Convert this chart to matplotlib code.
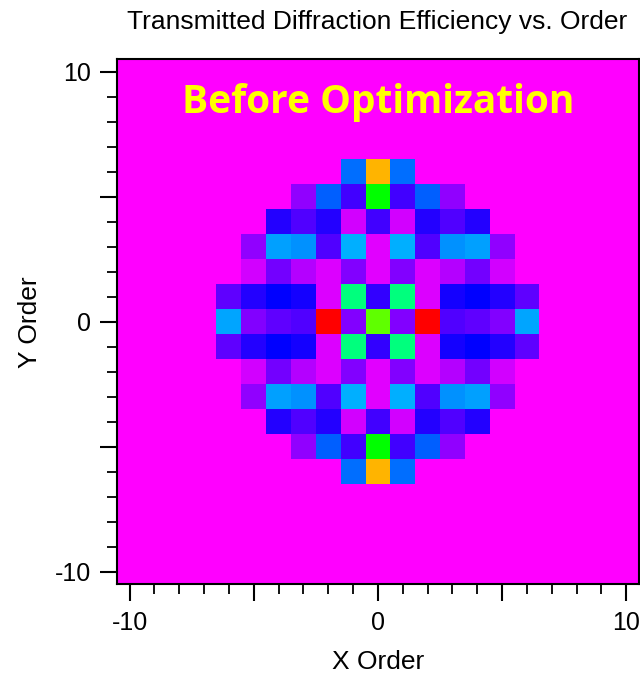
import numpy as np
import matplotlib.pyplot as plt
from matplotlib.colors import LinearSegmentedColormap
from matplotlib.ticker import MultipleLocator, FuncFormatter

# Порядки дифракции
orders = np.arange(-10, 11)
core_orders = np.arange(-6, 7)

# Относительная эффективность (строки: Y = 6 ... -6, столбцы: X = -6 ... 6)
eff_rows = [
    [0, 0, 0, 0, 0, 0.288, 0.856, 0.288, 0, 0, 0, 0, 0],
    [0, 0, 0, 0.087, 0.275, 0.150, 0.600, 0.150, 0.275, 0.087, 0, 0, 0],
    [0, 0, 0.175, 0.137, 0.175, 0.037, 0.150, 0.037, 0.175, 0.137, 0.175, 0, 0],
    [0, 0.087, 0.325, 0.313, 0.137, 0.338, 0.024, 0.338, 0.137, 0.313, 0.325, 0.087, 0],
    [0, 0.037, 0.112, 0.062, 0.030, 0.100, 0.024, 0.100, 0.030, 0.062, 0.112, 0.037, 0],
    [0.125, 0.175, 0.200, 0.187, 0.030, 0.500, 0.162, 0.500, 0.030, 0.187, 0.200, 0.175, 0.125],
    [0.332, 0.100, 0.125, 0.137, 1.000, 0.100, 0.675, 0.100, 1.000, 0.137, 0.125, 0.100, 0.332],
    [0.125, 0.175, 0.200, 0.187, 0.030, 0.500, 0.162, 0.500, 0.030, 0.187, 0.200, 0.175, 0.125],
    [0, 0.037, 0.112, 0.062, 0.030, 0.100, 0.024, 0.100, 0.030, 0.062, 0.112, 0.037, 0],
    [0, 0.087, 0.325, 0.313, 0.137, 0.338, 0.024, 0.338, 0.137, 0.313, 0.325, 0.087, 0],
    [0, 0, 0.175, 0.137, 0.175, 0.037, 0.150, 0.037, 0.175, 0.137, 0.175, 0, 0],
    [0, 0, 0, 0.087, 0.275, 0.150, 0.600, 0.150, 0.275, 0.087, 0, 0, 0],
    [0, 0, 0, 0, 0, 0.288, 0.856, 0.288, 0, 0, 0, 0, 0],
]

# Полная сетка -10..10, ось Y снизу вверх
grid = np.zeros((len(orders), len(orders)))
core = np.array(eff_rows)[::-1]
i0 = np.searchsorted(orders, core_orders[0])
grid[i0:i0 + len(core_orders), i0:i0 + len(core_orders)] = core

# Палитра: пурпурный -> синий -> голубой -> зелёный -> жёлтый -> красный
cmap = LinearSegmentedColormap.from_list(
    "diff", ["#ff00ff", "#0000ff", "#00ffff", "#00ff00", "#ffff00", "#ff0000"])

plt.rcParams['font.family'] = ['Liberation Sans', 'DejaVu Sans']
plt.rcParams['axes.unicode_minus'] = False

fig = plt.figure(figsize=(6.4, 6.73), dpi=100)
ax = fig.add_axes([0.183, 0.132, 0.815, 0.780])
ax.pcolormesh(orders, orders, grid, cmap=cmap, vmin=0, vmax=grid.max(), shading='nearest')
ax.set_facecolor('#ff00ff')
ax.set_xlim(-10.5, 10.5)
ax.set_ylim(-10.5, 10.5)

# Подписи только у -10, 0, 10; длинные штрихи через 5
only_tens = FuncFormatter(lambda v, p: f"{int(v)}" if int(round(v)) % 10 == 0 else "")
for axis in (ax.xaxis, ax.yaxis):
    axis.set_major_locator(MultipleLocator(5))
    axis.set_minor_locator(MultipleLocator(1))
    axis.set_major_formatter(only_tens)
ax.tick_params(which='major', direction='out', length=12, width=1.5, labelsize=18, pad=7)
ax.tick_params(which='minor', direction='out', length=7, width=1.3)
for s in ax.spines.values():
    s.set_linewidth(1.5)

ax.set_xlabel("X Order", fontsize=19, labelpad=11)
ax.set_ylabel("Y Order", fontsize=19, labelpad=9)
fig.text(0.59, 0.967, "Transmitted Diffraction Efficiency vs. Order", fontsize=19,
         ha='center', va='center')

ax.text(0.0, 8.75, "Before Optimization", color='#ffff00', fontsize=28,
        fontweight='bold', family=['Open Sans', 'DejaVu Sans'], ha='center', va='center')

fig.savefig("out.png", dpi=100)
